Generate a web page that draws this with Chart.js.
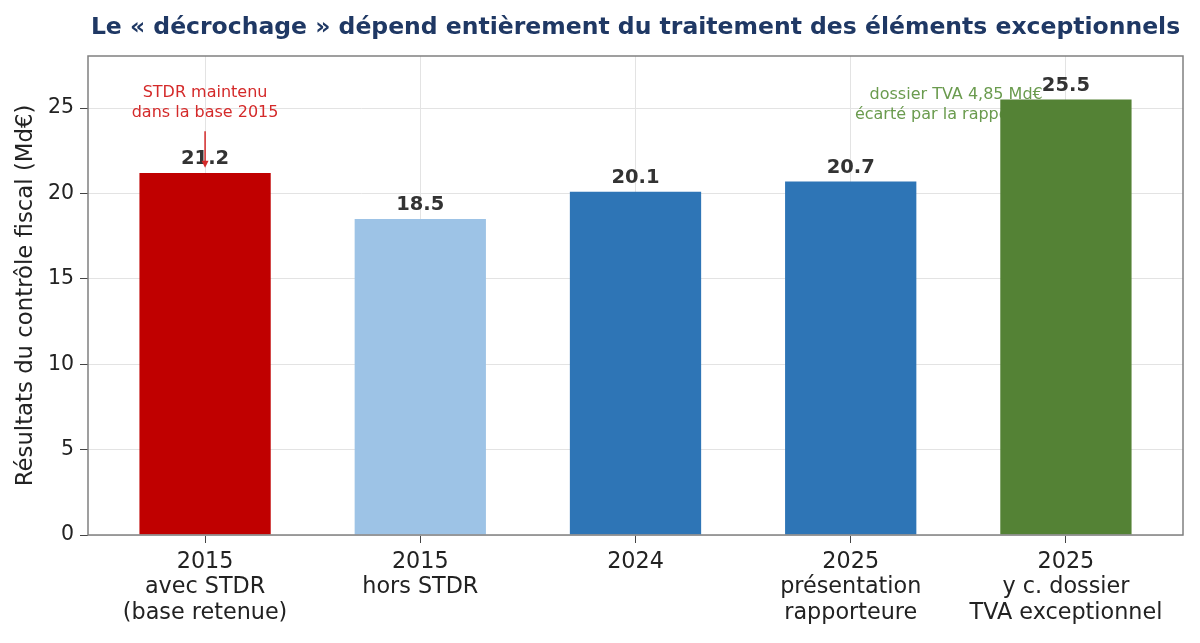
<!doctype html>
<html>
<head>
	<meta charset="utf-8">
	<title>Décrochage</title>
	<script src="https://cdn.jsdelivr.net/npm/chart.js@4.4.1"></script>
	<style>
	* { margin: 0; padding: 0; }
	body { background: #fff; }
	</style>
</head>
<body>
	<canvas id="canvas_bar" width="1200" height="643"></canvas>

<script type="text/javascript">
	// data
	var categories = [
		['2015', 'avec STDR', '(base retenue)'],
		['2015', 'hors STDR'],
		['2024'],
		['2025', 'présentation', 'rapporteure'],
		['2025', 'y c. dossier', 'TVA exceptionnel'],
	];
	var values = [21.2, 18.5, 20.1, 20.7, 25.5];
	var bar_colors = ['#c00000', '#9dc3e6', '#2e75b6', '#2e75b6', '#548235'];
	var y_ticks = [0, 5, 10, 15, 20, 25];

	var title_text = 'Le « décrochage » dépend entièrement du traitement des éléments exceptionnels';
	var y_title = 'Résultats du contrôle fiscal (Md€)';
	var note_red = ['STDR maintenu', 'dans la base 2015'];
	var note_green = ['dossier TVA 4,85 Md€', 'écarté par la rapporteure'];

	var FONT = "'DejaVu Sans', sans-serif";

	function noteLines(ctx, lines, x, y, color) {
		ctx.save();
		ctx.font = '16px ' + FONT;
		ctx.fillStyle = color;
		ctx.textAlign = 'center';
		ctx.textBaseline = 'middle';
		ctx.fillText(lines[0], x, y - 10);
		ctx.fillText(lines[1], x, y + 10);
		ctx.restore();
	}

	var deco = {
		id: 'deco',
		beforeDatasetsDraw: function(chart) {
			var xs = chart.scales.x, ys = chart.scales.y;
			// green note sits behind the last bar
			noteLines(chart.ctx, note_green, xs.getPixelForValue(3.49), ys.getPixelForValue(25.2), '#6a9b4e');
		},
		afterDatasetsDraw: function(chart) {
			var ctx = chart.ctx, xs = chart.scales.x, ys = chart.scales.y;
			var meta = chart.getDatasetMeta(0);
			ctx.save();
			ctx.font = 'bold 19.5px ' + FONT;
			ctx.fillStyle = '#333333';
			ctx.textAlign = 'center';
			ctx.textBaseline = 'alphabetic';
			meta.data.forEach(function(bar, i) {
				ctx.fillText(values[i].toFixed(1), bar.x, bar.y - 9);
			});
			ctx.restore();

			// red note + arrow
			var rx = xs.getPixelForValue(0);
			noteLines(ctx, note_red, rx, ys.getPixelForValue(25.3), '#d42a2a');
			var y0 = ys.getPixelForValue(23.65), y1 = ys.getPixelForValue(21.5);
			ctx.save();
			ctx.strokeStyle = '#d42a2a';
			ctx.fillStyle = '#d42a2a';
			ctx.lineWidth = 1.5;
			ctx.beginPath();
			ctx.moveTo(rx, y0);
			ctx.lineTo(rx, y1 - 5);
			ctx.stroke();
			ctx.beginPath();
			ctx.moveTo(rx - 3.5, y1 - 7);
			ctx.lineTo(rx + 3.5, y1 - 7);
			ctx.lineTo(rx, y1);
			ctx.closePath();
			ctx.fill();
			ctx.restore();
		},
		afterDraw: function(chart) {
			var ctx = chart.ctx, a = chart.chartArea;
			ctx.save();
			ctx.strokeStyle = '#808080';
			ctx.lineWidth = 1.5;
			ctx.strokeRect(a.left, a.top, a.right - a.left, a.bottom - a.top);
			ctx.font = 'bold 23.5px ' + FONT;
			ctx.fillStyle = '#1f3864';
			ctx.textAlign = 'center';
			ctx.textBaseline = 'middle';
			ctx.fillText(title_text, (a.left + a.right) / 2, 28);
			ctx.restore();
		}
	};

	var bar_data = {
		datasets: [{
			label: 'Résultats',
			data: values.map(function(v, i) { return { x: i, y: v }; }),
			backgroundColor: bar_colors,
			borderWidth: 0,
			barPercentage: 0.61,
			categoryPercentage: 1,
		}]
	};

	var bar_config = {
		type: 'bar',
		data: bar_data,
		options: {
			responsive: false,
			animation: false,
			layout: {
				padding: { top: 56, right: 17, bottom: 0, left: 0 }
			},
			scales: {
				x: {
					type: 'linear',
					min: -0.544,
					max: 4.544,
					offset: false,
					border: { display: false },
					grid: {
						offset: false,
						color: '#e3e3e3',
						tickColor: '#444',
						tickLength: 8,
					},
					afterBuildTicks: function(scale) {
						scale.ticks = categories.map(function(c, i) { return { value: i }; });
					},
					afterFit: function(scale) { scale.height = 108; },
					ticks: {
						maxRotation: 0,
						autoSkip: false,
						padding: 6,
						color: '#222',
						font: { family: FONT, size: 22.3, lineHeight: '25.5px' },
						callback: function(value) { return categories[value]; }
					}
				},
				y: {
					min: 0,
					max: 28.05,
					border: { display: false },
					grid: {
						color: '#e3e3e3',
						tickColor: '#444',
						tickLength: 8,
					},
					afterBuildTicks: function(scale) {
						scale.ticks = y_ticks.map(function(v) { return { value: v }; });
					},
					afterFit: function(scale) { scale.width = 88; },
					ticks: {
						padding: 6,
						color: '#222',
						font: { family: FONT, size: 20.5 },
					},
					title: {
						display: true,
						text: y_title,
						color: '#222',
						font: { family: FONT, size: 22.8 },
						padding: { top: 12, bottom: 0 }
					}
				}
			},
			plugins: {
				legend: { display: false },
				tooltip: { enabled: false },
			}
		},
		plugins: [deco]
	};

	var bar_Chart = new Chart(document.getElementById('canvas_bar'), bar_config);
</script>
</body>
</html>
